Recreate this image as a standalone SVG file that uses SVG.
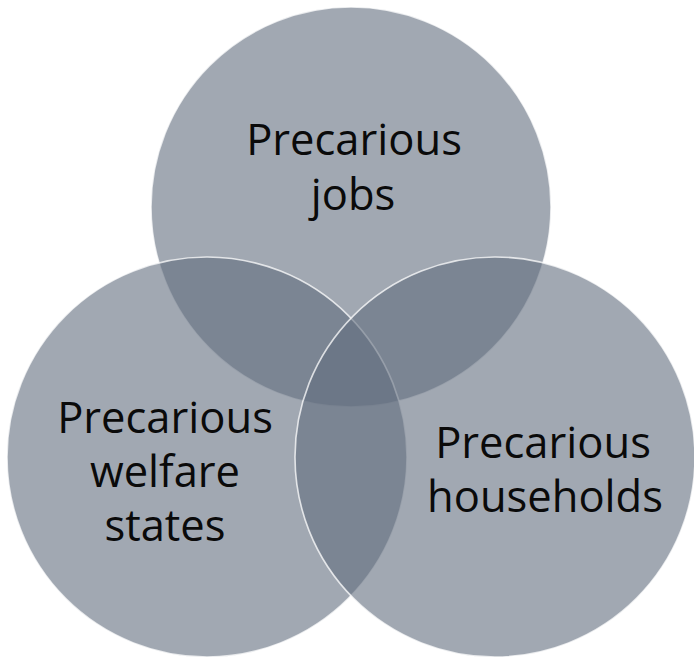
<svg xmlns="http://www.w3.org/2000/svg" width="694" height="659" viewBox="0 0 694 659">
<style>
.c{fill:#626e7f;fill-opacity:0.6;stroke:#ffffff;stroke-opacity:0.75;stroke-width:1.6}
.t{font-family:"Open Sans","Liberation Sans",sans-serif;font-size:43.5px;fill:#0a0a0a;text-anchor:middle}
</style>
<rect width="694" height="659" fill="#ffffff"/>
<g id="node-jobs">
<circle class="c" cx="351" cy="207" r="200"/>
<text class="t" x="354" y="155">Precarious</text>
<text class="t" x="353" y="210">jobs</text>
</g>
<g id="node-welfare">
<circle class="c" cx="207" cy="457" r="200"/>
<text class="t" x="165" y="433">Precarious</text>
<text class="t" x="165" y="487">welfare</text>
<text class="t" x="165" y="541">states</text>
</g>
<g id="node-households">
<circle class="c" cx="495" cy="457" r="200"/>
<text class="t" x="543" y="458">Precarious</text>
<text class="t" x="545" y="512">households</text>
</g>
<g id="connectors"/>
</svg>
